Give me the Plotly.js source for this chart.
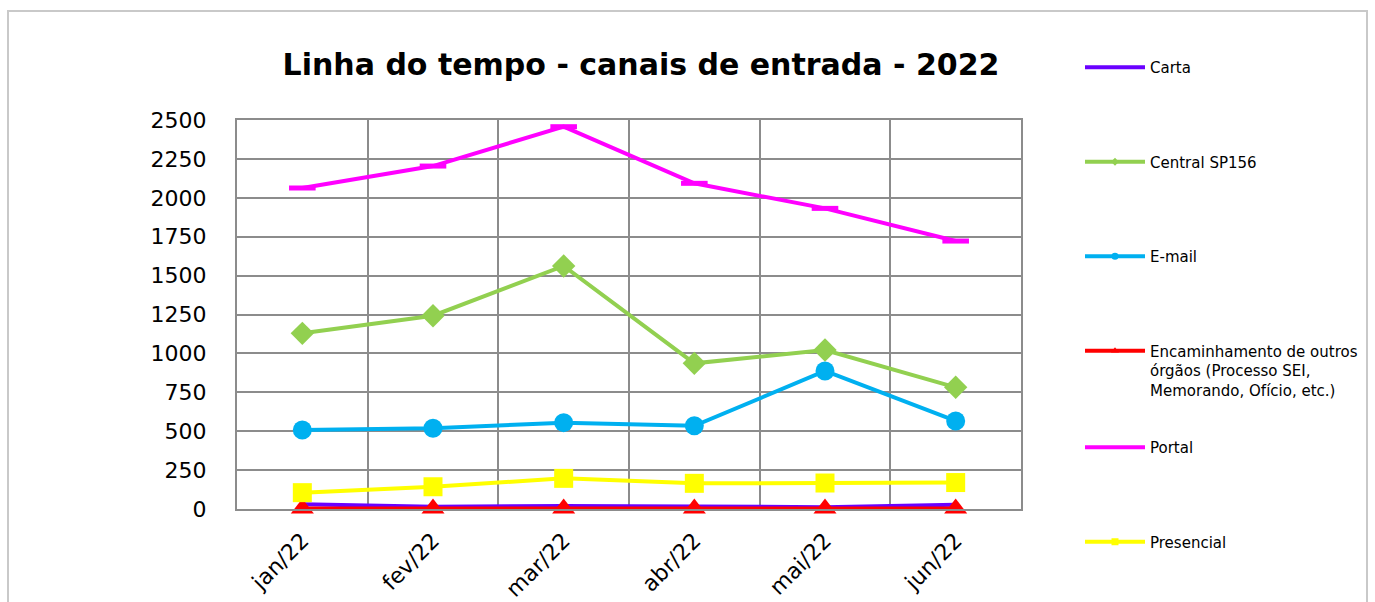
<!DOCTYPE html>
<html>
<head>
<meta charset="utf-8">
<script src="https://cdn.plot.ly/plotly-3.0.1.min.js"></script>
<style>
  html, body { margin: 0; padding: 0; background: #fff; }
  #wrap { position: relative; width: 1375px; height: 602px; overflow: hidden; }
  #frame { position: absolute; left: 7px; top: 10px; width: 1361px; height: 600px; border: 2px solid #c9c9c9; box-sizing: border-box; pointer-events: none; z-index: 5; }
  #chart { position: absolute; left: 0; top: 0; width: 1375px; height: 602px; }
</style>
</head>
<body>
<div id="wrap">
  <div id="chart"></div>
  <div id="frame"></div>
</div>
<script>
const months = ["jan/22", "fev/22", "mar/22", "abr/22", "mai/22", "jun/22"];
const carta = [30, 15, 20, 18, 12, 28];
const centralSP156 = [1129, 1242, 1562, 936, 1022, 782];
const email = [508, 519, 555, 535, 887, 566];
const encaminhamento = [3, 3, 3, 3, 3, 3];
const portal = [2063, 2204, 2457, 2093, 1932, 1722];
const presencial = [105, 143, 197, 165, 167, 170];
const yTicks = [0, 250, 500, 750, 1000, 1250, 1500, 1750, 2000, 2250, 2500];

const FONT = "DejaVu Sans, Open Sans, sans-serif";

const series = [
  { name: "Carta", y: carta, color: "#6a00ff", symbol: null, size: 0, lsize: 0, legend: "legend" },
  { name: "Central SP156", y: centralSP156, color: "#92d050", symbol: "diamond", size: 18, lsize: 6, legend: "legend" },
  { name: "E-mail", y: email, color: "#00b0f0", symbol: "circle", size: 19, lsize: 7, legend: "legend" },
  { name: "Encaminhamento de outros<br>órgãos (Processo SEI,<br>Memorando, Ofício, etc.)", y: encaminhamento, color: "#ff0000", symbol: "triangle-up", size: 20, lsize: 7, legend: "legend" },
  { name: "Portal", y: portal, color: "#ff00ff", symbol: "line-ew", size: 19, lsize: 0, legend: "legend2" },
  { name: "Presencial", y: presencial, color: "#ffff00", symbol: "square", size: 19, lsize: 7, legend: "legend2" }
];

const dataTraces = series.map((t) => {
  const tr = {
    type: "scatter",
    x: months,
    y: t.y,
    name: t.name,
    showlegend: false,
    mode: t.symbol ? "lines+markers" : "lines",
    line: { color: t.color, width: 4 },
    cliponaxis: false,
    hoverinfo: "x+y+name"
  };
  if (t.symbol) {
    tr.marker = { symbol: t.symbol, size: t.size, color: t.color,
      line: t.symbol === "line-ew" ? { color: t.color, width: 5 } : { width: 0 } };
  }
  return tr;
});

// legend-only entries (no data), so the legend keys use small markers like the original
const legendTraces = series.map((t, i) => {
  const tr = {
    type: "scatter",
    x: [null],
    y: [null],
    name: t.name,
    legend: t.legend,
    legendgroup: "g" + i,
    showlegend: true,
    mode: t.lsize ? "lines+markers" : "lines",
    line: { color: t.color, width: 4 },
    hoverinfo: "skip"
  };
  if (t.lsize) tr.marker = { symbol: t.symbol, size: t.lsize, color: t.color, line: { width: 0 } };
  return tr;
});

const legendCommon = {
  font: { family: FONT, size: 15, color: "#000000" },
  bgcolor: "rgba(0,0,0,0)",
  borderwidth: 0,
  tracegroupgap: 72,
  traceorder: "grouped",
  valign: "top",
  itemwidth: 60,
  maxheight: 560,
  itemclick: false,
  itemdoubleclick: false,
  xref: "container",
  yref: "container",
  xanchor: "left",
  yanchor: "top"
};

const layout = {
  width: 1375,
  height: 602,
  paper_bgcolor: "rgba(0,0,0,0)",
  plot_bgcolor: "#ffffff",
  margin: { l: 237, r: 354, t: 120, b: 93, autoexpand: false },
  font: { family: FONT, color: "#000000" },
  title: {
    text: "<b>Linha do tempo - canais de entrada - 2022</b>",
    font: { family: FONT, size: 30, color: "#000000" },
    xref: "container", x: 641 / 1375, xanchor: "center",
    yref: "container", y: 1 - 64 / 602, yanchor: "middle"
  },
  xaxis: {
    type: "category",
    range: [-0.5, 5.5],
    tickmode: "array",
    tickvals: months,
    ticktext: months,
    tickson: "boundaries",
    ticks: "",
    showgrid: true,
    gridcolor: "#8c8c8c",
    gridwidth: 2,
    showline: true,
    linecolor: "#8c8c8c",
    linewidth: 2,
    mirror: true,
    tickangle: -45,
    tickfont: { family: FONT, size: 22, color: "#000000" },
    ticklabelstandoff: 8,
    automargin: false,
    zeroline: false,
    fixedrange: true
  },
  yaxis: {
    range: [0, 2500],
    tickmode: "array",
    tickvals: yTicks,
    ticktext: yTicks.map(String),
    ticks: "",
    showgrid: true,
    gridcolor: "#8c8c8c",
    gridwidth: 2,
    showline: true,
    linecolor: "#8c8c8c",
    linewidth: 2,
    mirror: true,
    zeroline: false,
    tickfont: { family: FONT, size: 22, color: "#000000" },
    ticklabelstandoff: 24,
    automargin: false,
    fixedrange: true
  },
  showlegend: true,
  legend: Object.assign({}, legendCommon, {
    x: 1080 / 1375,
    y: 1 - 51 / 602
  }),
  legend2: Object.assign({}, legendCommon, {
    x: 1080 / 1375,
    y: 1 - 431 / 602
  })
};

Plotly.newPlot("chart", dataTraces.concat(legendTraces), layout, { displayModeBar: false });
</script>
</body>
</html>
